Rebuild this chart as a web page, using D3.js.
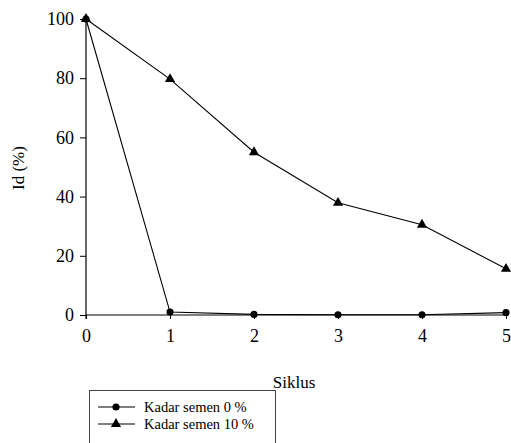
<!DOCTYPE html>
<html><head><meta charset="utf-8">
<script src="https://cdn.jsdelivr.net/npm/d3@7"></script>
</head><body style="margin:0;background:#fff">
<svg id="c" width="511" height="443" style="display:block;font-family:'Liberation Serif'"></svg>
<script>
const siklus = [0, 1, 2, 3, 4, 5];
const semen0 = [100, 1.0, 0.2, 0.1, 0.1, 0.8];
const semen10 = [100, 79.7, 55, 37.9, 30.5, 15.6];
const yTicks = [0, 20, 40, 60, 80, 100];
const seriesNames = ["Kadar semen 0 %", "Kadar semen 10 %"];

const svg = d3.select("#c");
const x = d3.scaleLinear().domain([0, 5]).range([86, 506]);
const y = d3.scaleLinear().domain([0, 100]).range([315, 19]);

// axes
const gx = svg.append("g").attr("transform", `translate(0,${y(0)})`)
  .call(d3.axisBottom(x).tickValues(siklus).tickSize(4).tickPadding(10).tickFormat(d3.format("d")));
const gy = svg.append("g").attr("transform", `translate(${x(0)},0)`)
  .call(d3.axisLeft(y).tickValues(yTicks).tickSize(6).tickPadding(6));
[gx, gy].forEach(g => {
  g.attr("font-family", "Liberation Serif").attr("font-size", 18);
  g.select(".domain").attr("stroke", "#000").attr("stroke-width", 1.2);
  g.selectAll(".tick line").attr("stroke", "#000");
  g.selectAll("text").attr("style", "font-family:'Liberation Serif';font-size:18px").attr("fill", "#000");
});
gx.select(".domain").attr("d", `M${x(0)},0H${x(5)}`);
gy.select(".domain").attr("d", `M0,${y(0)+4}V${y(100)}`);

// labels
svg.append("text").attr("x", 294).attr("y", 388).attr("text-anchor", "middle")
  .attr("style", "font-family:'Liberation Serif';font-size:17px").text("Siklus");
svg.append("text").attr("transform", "translate(24,168) rotate(-90)").attr("text-anchor", "middle")
  .attr("style", "font-family:'Liberation Serif';font-size:17px").text("Id (%)");

const line = d3.line().x((d, i) => x(siklus[i])).y(d => y(d));
const circ = d3.symbol().type(d3.symbolCircle).size(40);
const tri = d3.symbol().type(d3.symbolTriangle).size(45);

svg.append("path").datum(semen10).attr("d", line).attr("fill", "none").attr("stroke", "#000").attr("stroke-width", 1.1);
svg.append("path").datum(semen0).attr("d", line).attr("fill", "none").attr("stroke", "#000").attr("stroke-width", 1.1);
svg.selectAll(".t").data(semen10).enter().append("path")
  .attr("d", tri).attr("transform", (d, i) => `translate(${x(siklus[i])},${y(d)})`).attr("fill", "#000");
svg.selectAll(".c").data(semen0).enter().append("path")
  .attr("d", circ).attr("transform", (d, i) => `translate(${x(siklus[i])},${y(d)})`).attr("fill", "#000");

// legend
const lg = svg.append("g");
lg.append("rect").attr("x", 89.5).attr("y", 390.5).attr("width", 186).attr("height", 60)
  .attr("fill", "#fff").attr("stroke", "#444").attr("stroke-width", 1);
const syms = [circ, tri];
seriesNames.forEach((n, i) => {
  const cy = 407 + i * 17;
  lg.append("line").attr("x1", 98).attr("x2", 135).attr("y1", cy).attr("y2", cy).attr("stroke", "#000").attr("stroke-width", 1.1);
  lg.append("path").attr("d", syms[i]).attr("transform", `translate(116,${cy})`).attr("fill", "#000");
  lg.append("text").attr("x", 144).attr("y", cy + 5)
    .attr("style", "font-family:'Liberation Serif';font-size:14.5px").text(n);
});
</script>
</body></html>
